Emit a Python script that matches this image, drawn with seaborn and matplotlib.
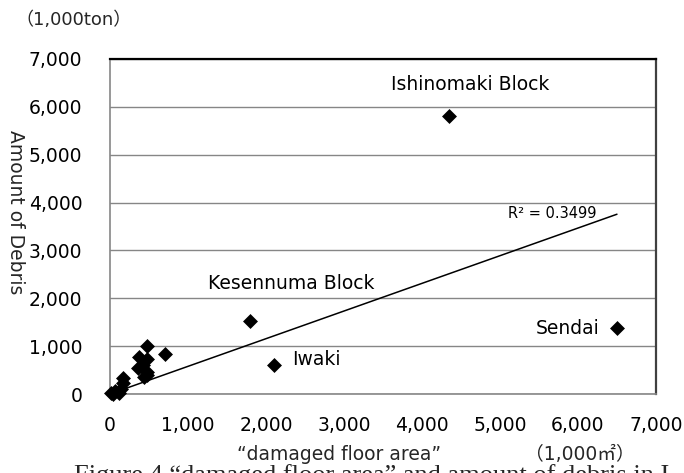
import numpy as np
import pandas as pd
import matplotlib
matplotlib.use("Agg")
import matplotlib.pyplot as plt
import seaborn as sns

## Data (1,000 m2 vs 1,000 ton)
floor_area = [4350, 6500, 1790, 2100, 480, 710, 370, 480, 355, 420,
              470, 430, 480, 170, 170, 135, 10, 40, 70, 120]
debris = [5800, 1370, 1520, 615, 1000, 830, 780, 740, 550, 600,
          460, 350, 400, 340, 240, 110, 20, 10, 60, 30]
r2_label = "R² = 0.3499"

# point labels: text, x, y
label_text = ["Ishinomaki Block", "Kesennuma Block", "Iwaki", "Sendai"]
label_x = [4615, 2320, 2650, 5870]
label_y = [6470, 2300, 730, 1375]

ticks = [0, 1000, 2000, 3000, 4000, 5000, 6000, 7000]
tick_labels = [f"{t:,}" for t in ticks]

df = pd.DataFrame({"area": floor_area, "debris": debris})

## Trend line forced through the origin (Excel style)
x_arr = np.array(floor_area, dtype=float)
y_arr = np.array(debris, dtype=float)
slope = np.sum(x_arr * y_arr) / np.sum(x_arr ** 2)
trend = pd.DataFrame({"area": [x_arr.min(), x_arr.max()]})
trend["debris"] = slope * trend["area"]

sns.set_theme(style="white")
plt.rcParams["font.family"] = ["DejaVu Sans", "Noto Sans CJK JP"]

grid_col = "#868686"
fig = plt.figure(figsize=(6.84, 4.73), dpi=100)
ax = fig.add_axes([0.1608, 0.1670, 0.7982, 0.7083])

sns.lineplot(data=trend, x="area", y="debris", ax=ax, color="black",
             linewidth=1.1, zorder=3)
sns.scatterplot(data=df, x="area", y="debris", ax=ax, marker="D", s=58,
                color="black", edgecolor="black", linewidth=0, zorder=4,
                clip_on=False)

ax.set_xlim(0, 7000)
ax.set_ylim(0, 7000)
ax.set_xticks(ticks)
ax.set_xticklabels(tick_labels)
ax.set_yticks(ticks)
ax.set_yticklabels(tick_labels)
ax.set_xlabel("")
ax.set_ylabel("")
ax.grid(axis="y", color=grid_col, linewidth=1)
ax.grid(axis="x", visible=False)
ax.set_axisbelow(True)

ax.tick_params(axis="both", which="major", direction="out", length=5,
               width=1, color=grid_col, labelsize=13.5, labelcolor="black")
ax.tick_params(axis="x", pad=11)
ax.tick_params(axis="y", pad=15)

ax.spines["left"].set_color(grid_col)
ax.spines["bottom"].set_color(grid_col)
ax.spines["top"].set_color("black")
ax.spines["right"].set_color("#404040")
for side in ["top", "right"]:
    ax.spines[side].set_linewidth(1.6)
for side in ["left", "bottom"]:
    ax.spines[side].set_linewidth(1.2)

for txt, lx, ly in zip(label_text, label_x, label_y):
    ax.text(lx, ly, txt, fontsize=13.5, ha="center", va="center", color="black")
ax.text(6240, 3670, r2_label, fontsize=10.5, ha="right", va="baseline",
        color="black")

# axis titles and units
fig.text(0.022, 0.552, "Amount of Debris", rotation=270, fontsize=13.5,
         ha="center", va="center")
fig.text(0.022, 0.958, "（1,000ton）", fontsize=13, ha="left", va="center")
fig.text(0.496, 0.040, "“damaged floor area”", fontsize=13.5, ha="center",
         va="center")
fig.text(0.848, 0.040, "（1,000㎡）", fontsize=13.5, ha="center", va="center")
fig.text(0.108, -0.020, "Figure 4 “damaged floor area” and amount of debris in I",
         fontsize=19, family="Liberation Serif", ha="left", va="baseline")

fig.savefig("out.png", dpi=100)
